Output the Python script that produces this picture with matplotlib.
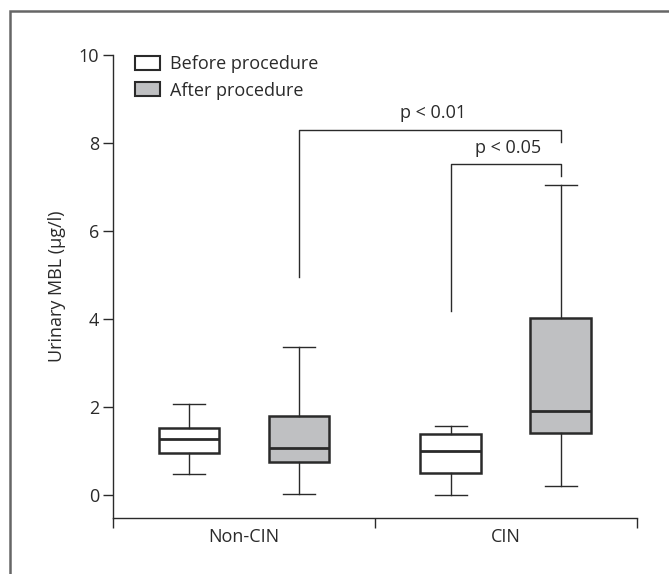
import matplotlib
matplotlib.use("Agg")
import matplotlib.pyplot as plt
from matplotlib.patches import Patch, Rectangle

plt.rcParams['font.family'] = ['Open Sans', 'DejaVu Sans']

# donnees
groups = ["Non-CIN", "CIN"]
series = ["Before procedure", "After procedure"]
# [whislo, q1, med, q3, whishi] pour chaque boite
before_stats = [[0.49, 0.95, 1.28, 1.52, 2.08],
                [0.00, 0.50, 1.00, 1.39, 1.58]]
after_stats = [[0.02, 0.75, 1.06, 1.79, 3.37],
               [0.21, 1.41, 1.91, 4.03, 7.05]]
fill_colors = ["white", "#bfc0c2"]

# crochets de significativite : (boite gauche, boite droite, haut, bas gauche, bas droite, texte)
brackets = [(1, 3, 8.31, 4.96, 8.04, "p < 0.01"),
            (2, 3, 7.52, 4.18, 7.25, "p < 0.05")]

positions = [0.58, 1.42, 2.58, 3.42]
box_w = 0.465
fs = 13
ink = "#2a2a2a"

fig = plt.figure(figsize=(6.69, 5.74), dpi=100)
ax = fig.add_axes([0.169, 0.0976, 0.783, 0.806])

stats = []
cols = []
for g in range(len(groups)):
    for s, data in enumerate([before_stats, after_stats]):
        lo, q1, med, q3, hi = data[g]
        stats.append(dict(whislo=lo, q1=q1, med=med, q3=q3, whishi=hi, fliers=[]))
        cols.append(fill_colors[s])

bp = ax.bxp(stats, positions=positions, widths=box_w, capwidths=0.24,
            patch_artist=True, showfliers=False,
            boxprops=dict(edgecolor=ink, linewidth=1.8),
            medianprops=dict(color=ink, linewidth=2.0),
            whiskerprops=dict(color=ink, linewidth=1.0),
            capprops=dict(color=ink, linewidth=1.0))
for patch, c in zip(bp['boxes'], cols):
    patch.set_facecolor(c)

for i, j, top, lo_l, lo_r, txt in brackets:
    xa, xb = positions[i], positions[j]
    ax.plot([xa, xa, xb, xb], [lo_l, top, top, lo_r], color=ink, lw=1.0)
    ax.text((xa + xb) / 2 + 0.02, top + 0.17, txt, ha="center", va="bottom", fontsize=fs, color=ink)

ax.set_xlim(0, 4)
ax.set_ylim(-0.52, 10)
ax.spines['top'].set_visible(False)
ax.spines['right'].set_visible(False)
for sp in ['left', 'bottom']:
    ax.spines[sp].set_color(ink)
    ax.spines[sp].set_linewidth(1.0)

ax.set_yticks([0, 2, 4, 6, 8, 10])
ax.set_xticks([0, 2, 4])
ax.set_xticklabels([])
ax.set_xticks([1, 3], minor=True)
ax.set_xticklabels(groups, minor=True)
ax.tick_params(axis='x', which='major', length=7, width=1.0, color=ink, direction='out')
ax.tick_params(axis='x', which='minor', length=0, pad=7, labelsize=fs, labelcolor=ink)
ax.tick_params(axis='y', length=7, width=1.0, color=ink, labelsize=fs, labelcolor=ink, pad=3)
ax.set_ylabel("Urinary MBL (µg/l)", fontsize=fs, color=ink, labelpad=9)

handles = [Patch(facecolor=fill_colors[k], edgecolor=ink, linewidth=1.5, label=series[k]) for k in range(2)]
ax.legend(handles=handles, loc="upper left", bbox_to_anchor=(0.01, 1.035), frameon=False,
          fontsize=fs, handlelength=1.4, handleheight=0.85, handletextpad=0.55,
          labelspacing=0.45, labelcolor=ink)

# cadre autour de la figure
fig.patches.append(Rectangle((9.5 / 669, -0.1), 1.2, 1.1 - 11.5 / 574, transform=fig.transFigure,
                             fill=False, edgecolor="#666666", linewidth=1.8))

fig.savefig("out.png", dpi=100)
